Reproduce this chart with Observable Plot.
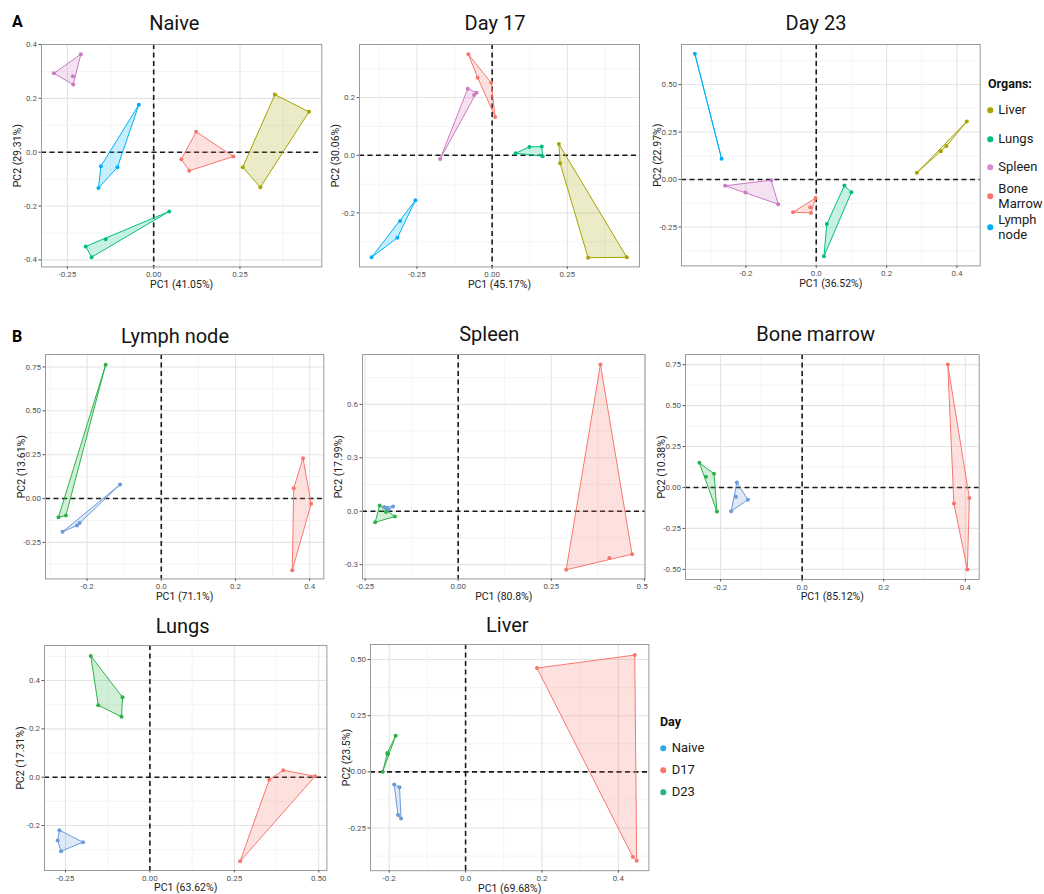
<!DOCTYPE html>
<html><head><meta charset="utf-8">
<script src="https://cdn.jsdelivr.net/npm/d3@7"></script>
<script src="https://cdn.jsdelivr.net/npm/@observablehq/plot@0.6"></script>
<style>
body{margin:0;background:#fff;font-family:Roboto,"Noto Sans",sans-serif;}
#root{position:relative;width:1044px;height:894px;overflow:hidden;background:#fff;}
.abs{position:absolute;}
.title{position:absolute;font-size:20px;color:#141414;transform:translate(-50%,-50%);white-space:nowrap;line-height:1;}
.tag{position:absolute;font-size:16px;font-weight:bold;color:#000;transform:translateY(-50%);line-height:1;}
.lgtitle{position:absolute;font-size:12.5px;font-weight:bold;color:#111;transform:translateY(-50%);line-height:1;white-space:nowrap;}
.lgtext{position:absolute;font-size:13px;color:#1a1a1a;transform:translateY(-50%);line-height:14.5px;white-space:pre;}
.lgdot{position:absolute;width:5.5px;height:5.5px;border-radius:50%;transform:translate(-50%,-50%);}
</style></head><body><div id="root"></div>
<script>
// ---------------- DATA ----------------
const organNames = ["Bone Marrow","Liver","Lungs","Lymph node","Spleen"];
const organColors = ["#F8766D","#A3A500","#00BF7D","#00B0F6","#CB79C4"];
const dayNames = ["Naive","D17","D23"];
const dayPlotColors = ["#6B9ADB","#F8766D","#2DB24A"];
const dayLegendColors = ["#2EAAE8","#F8766D","#27B67A"];
const organLegendLabels = ["Liver","Lungs","Spleen","Bone\nMarrow","Lymph\nnode"];
const organLegendColors = ["#A3A500","#00BF7D","#D58BD0","#F8766D","#00B0F6"];

// Panel A: Naive
const naiveOrgan = ["Spleen","Spleen","Spleen","Spleen","Lymph node","Lymph node","Lymph node","Lymph node","Bone Marrow","Bone Marrow","Bone Marrow","Bone Marrow","Liver","Liver","Liver","Liver","Lungs","Lungs","Lungs","Lungs"];
const naivePC1 = [-0.289,-0.211,-0.234,-0.233, -0.043,-0.153,-0.105,-0.160, 0.123,0.080,0.103,0.231, 0.351,0.450,0.258,0.309, 0.045,-0.139,-0.197,-0.180];
const naivePC2 = [0.293,0.364,0.282,0.251, 0.176,-0.052,-0.056,-0.133, 0.076,-0.026,-0.069,-0.016, 0.214,0.150,-0.056,-0.130, -0.220,-0.323,-0.350,-0.390];

// Panel A: Day 17
const d17Organ = naiveOrgan.slice();
const d17PC1 = [-0.081,-0.060,-0.052,-0.173, -0.255,-0.306,-0.315,-0.401, -0.079,-0.048,-0.003,0.010, 0.222,0.226,0.319,0.448, 0.078,0.124,0.165,0.168];
const d17PC2 = [0.231,0.209,0.217,-0.013, -0.156,-0.228,-0.286,-0.354, 0.350,0.269,0.251,0.133, 0.039,-0.028,-0.355,-0.354, 0.007,0.029,0.030,-0.003];

// Panel A: Day 23
const d23Organ = ["Spleen","Spleen","Spleen","Spleen","Lymph node","Lymph node","Bone Marrow","Bone Marrow","Bone Marrow","Bone Marrow","Liver","Liver","Liver","Liver","Lungs","Lungs","Lungs","Lungs"];
const d23PC1 = [-0.259,-0.201,-0.128,-0.108, -0.345,-0.269, -0.066,-0.017,-0.015,-0.002, 0.428,0.370,0.354,0.286, 0.080,0.100,0.030,0.022];
const d23PC2 = [-0.033,-0.069,-0.004,-0.130, 0.662,0.109, -0.172,-0.146,-0.176,-0.098, 0.306,0.176,0.149,0.035, -0.032,-0.067,-0.235,-0.404];

// Panel B: Lymph node
const lnDay = ["Naive","Naive","Naive","Naive","D17","D17","D17","D17","D23","D23","D23"];
const lnPC1 = [-0.111,-0.266,-0.227,-0.220, 0.382,0.357,0.404,0.353, -0.150,-0.277,-0.257];
const lnPC2 = [0.080,-0.190,-0.154,-0.139, 0.230,0.059,-0.030,-0.409, 0.762,-0.106,-0.097];

// Panel B: Spleen
const spDay = ["Naive","Naive","Naive","Naive","D17","D17","D17","D17","D23","D23","D23","D23"];
const spPC1 = [-0.199,-0.175,-0.187,-0.192, 0.382,0.467,0.406,0.290, -0.211,-0.223,-0.170,-0.194];
const spPC2 = [0.024,0.026,0.009,0.016, 0.824,-0.241,-0.262,-0.329, 0.032,-0.062,-0.030,-0.004];

// Panel B: Bone marrow
const bmDay = spDay.slice();
const bmPC1 = [-0.160,-0.162,-0.133,-0.174, 0.357,0.372,0.410,0.405, -0.252,-0.236,-0.216,-0.209];
const bmPC2 = [0.031,-0.057,-0.075,-0.145, 0.751,-0.098,-0.065,-0.501, 0.151,0.065,0.083,-0.147];

// Panel B: Lungs
const luDay = spDay.slice();
const luPC1 = [-0.268,-0.273,-0.263,-0.198, 0.395,0.489,0.353,0.267, -0.175,-0.081,-0.153,-0.084];
const luPC2 = [-0.219,-0.262,-0.306,-0.269, 0.029,0.004,-0.011,-0.348, 0.502,0.331,0.298,0.250];

// Panel B: Liver
const liDay = spDay.slice();
const liPC1 = [-0.187,-0.173,-0.177,-0.169, 0.187,0.443,0.438,0.448, -0.183,-0.205,-0.204,-0.217];
const liPC2 = [-0.056,-0.069,-0.192,-0.208, 0.462,0.520,-0.379,-0.396, 0.161,0.084,0.078,0.001];

const panelTitles = ["Naive","Day 17","Day 23","Lymph node","Spleen","Bone marrow","Lungs","Liver"];
const pc1Labels = ["PC1 (41.05%)","PC1 (45.17%)","PC1 (36.52%)","PC1 (71.1%)","PC1 (80.8%)","PC1 (85.12%)","PC1 (63.62%)","PC1 (69.68%)"];
const pc2Labels = ["PC2 (29.31%)","PC2 (30.06%)","PC2 (22.97%)","PC2 (13.61%)","PC2 (17.99%)","PC2 (10.38%)","PC2 (17.31%)","PC2 (23.5%)"];
const xTickSets = [[-0.25,0,0.25],[-0.25,0,0.25],[-0.2,0,0.2,0.4],[-0.2,0,0.2,0.4],[-0.25,0,0.25,0.5],[-0.2,0,0.2,0.4],[-0.25,0,0.25,0.5],[-0.2,0,0.2,0.4]];
const yTickSets = [[-0.4,-0.2,0,0.2,0.4],[-0.2,0,0.2],[-0.25,0,0.25,0.5],[-0.25,0,0.25,0.5,0.75],[-0.3,0,0.3,0.6],[-0.5,-0.25,0,0.25,0.5,0.75],[-0.2,0,0.2,0.4],[-0.25,0,0.25,0.5]];
const xDecimals = [2,2,1,1,2,1,2,1];
const yDecimals = [1,1,2,2,1,2,1,2];
const xDomains = [[-0.325,0.487],[-0.441,0.490],[-0.383,0.466],[-0.312,0.438],[-0.257,0.502],[-0.286,0.434],[-0.312,0.524],[-0.249,0.480]];
const yDomains = [[-0.426,0.400],[-0.387,0.384],[-0.455,0.711],[-0.458,0.821],[-0.380,0.880],[-0.562,0.812],[-0.386,0.545],[-0.440,0.567]];

// ---------------- LAYOUT ----------------
const frames = [ // [left, right, top, bottom] of each panel frame (page px)
  [40.7,321,44.3,266.7],[359.3,639.3,44.3,266.7],[681.3,980,44.3,265.7],
  [45,323.3,354.3,578.7],[361.7,644.3,354.3,578.7],[685.3,979,354.3,579.3],
  [44.3,326.7,645,870],[370.3,648.7,644.3,870.5]
];
const titlePos = [[174.3,23.3],[495,23.3],[816,23.3],[175,336],[489.3,334],[815.7,334],[182.7,625.7],[507.3,625]];

const root = document.getElementById("root");
const rowsOf = (p1,p2,g) => p1.map((v,i)=>({pc1:v, pc2:p2[i], g:g[i]}));
const datasets = [
  [rowsOf(naivePC1,naivePC2,naiveOrgan),"organ"],
  [rowsOf(d17PC1,d17PC2,d17Organ),"organ"],
  [rowsOf(d23PC1,d23PC2,d23Organ),"organ"],
  [rowsOf(lnPC1,lnPC2,lnDay),"day"],
  [rowsOf(spPC1,spPC2,spDay),"day"],
  [rowsOf(bmPC1,bmPC2,bmDay),"day"],
  [rowsOf(luPC1,luPC2,luDay),"day"],
  [rowsOf(liPC1,liPC2,liDay),"day"]
];

function minorTicks(ticks,[lo,hi]){
  const step = ticks[1]-ticks[0], out=[];
  for(let i=-1;i<ticks.length;i++){const v=ticks[0]+(i+0.5)*step; if(v>=lo&&v<=hi) out.push(v);}
  return out;
}
const fmt = dec => d => d.toFixed(dec);

function panel(i){
  const [L,R,T,B] = frames[i];
  const mL=44, mT=4, mB=30, mR = (i===4?4:6);
  const [rows,kind] = datasets[i];
  const xT = xTickSets[i], yT = yTickSets[i];
  const xD = xDomains[i], yD = yDomains[i];
  const chart = Plot.plot({
    width: (R-L)+mL+mR, height: (B-T)+mT+mB,
    marginLeft:mL, marginRight:mR, marginTop:mT, marginBottom:mB,
    x:{domain:xD}, y:{domain:yD},
    color: kind==="organ" ? {domain:organNames, range:organColors} : {domain:dayNames, range:dayPlotColors},
    style:{fontFamily:"Roboto, sans-serif", background:"transparent", overflow:"hidden"},
    marks:[
      Plot.gridX(minorTicks(xT,xD),{stroke:"#ececec",strokeOpacity:1,strokeWidth:0.6}),
      Plot.gridY(minorTicks(yT,yD),{stroke:"#ececec",strokeOpacity:1,strokeWidth:0.6}),
      Plot.gridX(xT,{stroke:"#e4e4e4",strokeOpacity:1,strokeWidth:1.1}),
      Plot.gridY(yT,{stroke:"#e4e4e4",strokeOpacity:1,strokeWidth:1.1}),
      Plot.ruleX([0],{stroke:"#1a1a1a",strokeWidth:1.6,strokeDasharray:"5,3.5"}),
      Plot.ruleY([0],{stroke:"#1a1a1a",strokeWidth:1.6,strokeDasharray:"5,3.5"}),
      Plot.hull(rows,{x:"pc1",y:"pc2",fill:"g",stroke:"g",fillOpacity:0.22,strokeWidth:1}),
      Plot.dot(rows,{x:"pc1",y:"pc2",fill:"g",r:2}),
      Plot.frame({stroke:"#9a9a9a",strokeWidth:1}),
      Plot.axisX(xT,{tickFormat:fmt(xDecimals[i]),tickSize:2.5,tickPadding:2,fontSize:8,color:"#555",label:null}),
      Plot.axisY(yT,{tickFormat:fmt(yDecimals[i]),tickSize:2.5,tickPadding:2,fontSize:8,color:"#555",label:null}),
      Plot.axisX([],{tickSize:0,label:pc1Labels[i],labelAnchor:"center",labelArrow:"none",labelOffset:21,fontSize:10.5,color:"#222"}),
      Plot.axisY([],{tickSize:0,label:pc2Labels[i],labelAnchor:"center",labelArrow:"none",labelOffset:28,fontSize:10.5,color:"#222"})
    ]
  });
  chart.style.position="absolute";
  chart.style.left=(L-mL)+"px";
  chart.style.top=(T-mT)+"px";
  root.appendChild(chart);
  const t=document.createElement("div");
  t.className="title"; t.textContent=panelTitles[i];
  t.style.left=titlePos[i][0]+"px"; t.style.top=titlePos[i][1]+"px";
  root.appendChild(t);
}
for(let i=0;i<8;i++) panel(i);

function addDiv(cls,text,x,y,extra){
  const d=document.createElement("div"); d.className=cls; d.textContent=text;
  d.style.left=x+"px"; d.style.top=y+"px"; if(extra) Object.assign(d.style,extra); root.appendChild(d); return d;
}
addDiv("tag","A",12,21.5);
addDiv("tag","B",12,336.5);

// Organs legend
addDiv("lgtitle","Organs:",988,84);
const organItemY=[110,139,167,196,227];
organLegendLabels.forEach((lab,k)=>{
  addDiv("lgdot","",990,organItemY[k],{background:organLegendColors[k]});
  addDiv("lgtext",lab,998.3,organItemY[k]);
});
// Day legend
addDiv("lgtitle","Day",660,721.7);
const dayItemY=[748.3,770,792.3];
dayNames.forEach((lab,k)=>{
  addDiv("lgdot","",663.3,dayItemY[k],{background:dayLegendColors[k]});
  addDiv("lgtext",lab,671.7,dayItemY[k]);
});
</script></body></html>
